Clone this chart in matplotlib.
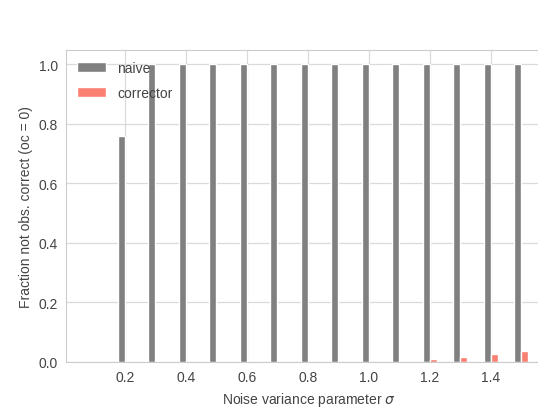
import matplotlib
matplotlib.use('Agg')
import matplotlib.pyplot as plt
import seaborn as sns
import numpy as np

# noise levels and fraction of runs not observationally correct
sigma_lst = [0.1, 0.2, 0.3, 0.4, 0.5, 0.6, 0.7, 0.8, 0.9, 1.0, 1.1, 1.2, 1.3, 1.4, 1.5]
naive_lst = [0.0, 0.76, 1.0, 1.0, 1.0, 1.0, 1.0, 1.0, 1.0, 1.0, 1.0, 1.0, 1.0, 1.0, 1.0]
corrector_lst = [0.0, 0.0, 0.0, 0.0, 0.0, 0.0, 0.0, 0.0, 0.0, 0.0, 0.0, 0.01, 0.018, 0.028, 0.037]
yticks_lst = [0.0, 0.2, 0.4, 0.6, 0.8, 1.0]
xticks_lst = [0.2, 0.4, 0.6, 0.8, 1.0, 1.2, 1.4]

BAR_W = 0.023
TEXT_C = '#444444'

sns.set_style('whitegrid')
plt.rcParams['font.family'] = ['Liberation Sans', 'DejaVu Sans']

fig = plt.figure(figsize=(5.38, 4.14), dpi=100)
ax = fig.add_axes([66 / 538, 1 - 363 / 414, (551 - 66) / 538, (363 - 51) / 414])

x = np.array(sigma_lst)
ax.bar(x - BAR_W, naive_lst, BAR_W, align='edge', color='#808080', label='naive', zorder=2)
ax.bar(x, corrector_lst, BAR_W, align='edge', color='#fa8072', label='corrector', zorder=2)

ax.set_xlim(0.0075, 1.5975)
ax.set_ylim(0, 1.047)
ax.set_xticks(xticks_lst)
ax.set_xticklabels(['%.1f' % v for v in xticks_lst])
ax.set_yticks(yticks_lst)
ax.set_yticklabels(['%.1f' % v for v in yticks_lst])
ax.tick_params(labelsize=10, colors=TEXT_C, length=0, pad=6)
ax.grid(True, color='#dadada', linewidth=0.9, zorder=0)
for sp in ax.spines.values():
    sp.set_color('#cccccc')

ax.set_xlabel('Noise variance parameter $\\sigma$', fontsize=10, color=TEXT_C)
ax.set_ylabel('Fraction not obs. correct (oc = 0)', fontsize=10, color=TEXT_C)

ax.legend(loc='upper left', frameon=False, fontsize=10, handlelength=2.1,
          labelspacing=0.75, borderaxespad=0.4, labelcolor=TEXT_C)

fig.savefig('out.png', dpi=100)
